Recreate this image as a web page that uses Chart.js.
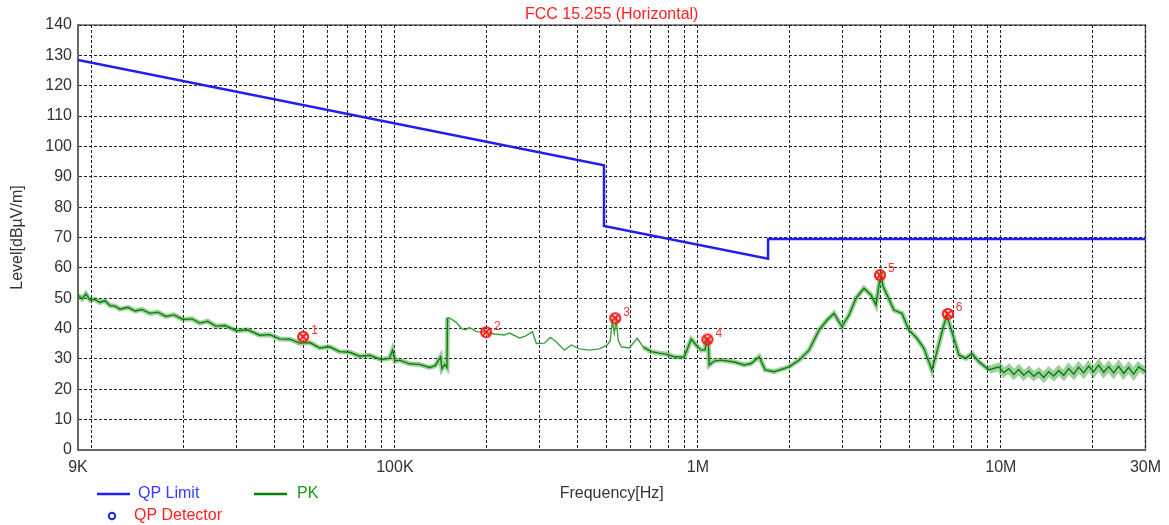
<!DOCTYPE html>
<html>
<head>
<meta charset="utf-8">
<script src="https://cdn.jsdelivr.net/npm/chart.js@4.4.1/dist/chart.umd.min.js"></script>
<style>
  html, body { margin: 0; padding: 0; background: #fff; }
  #wrap { width: 1169px; height: 525px; position: relative; }
</style>
</head>
<body>
<div id="wrap"><canvas id="chart"></canvas></div>
<script>
// frequencies in kHz, levels in dBµV/m
const limitFreq = [9, 490, 490, 1705, 1705, 30000]
const limitLevel = [128.5, 93.8, 73.8, 63.0, 69.5, 69.5]

const pkFreq = [
  9.0, 9.28, 9.56, 9.86, 10.24, 10.62, 11.04, 11.48, 11.92, 12.38,
  13.16, 13.87, 14.63, 15.54, 16.5, 17.55, 18.65, 20.0, 21.4, 22.7,
  24.1, 25.65, 27.5, 30.0, 32.7, 35.8, 38.6, 41.7, 45.0, 48.5,
  52.4, 56.5, 60.9, 65.7, 70.9, 76.5, 82.5, 90.0, 96.0, 98.3,
  100, 103.6, 111.8, 120.6, 130.1, 136, 141.5, 143, 146, 148.6,
  149.2, 151.5, 158.6, 166, 171, 176.3, 186, 200, 213, 230,
  238.9, 257.7, 269.7, 284.4, 293, 311.4, 326, 341.3, 362.6, 382.3,
  406.2, 438.3, 473, 502.6, 514, 521.8, 530, 538, 546, 558.8,
  593.8, 631, 660.4, 701.7, 745.6, 786, 835.5, 901.4, 950.6, 987,
  1025, 1057, 1068, 1082, 1090, 1132, 1194, 1318, 1421, 1498,
  1593, 1667, 1785, 2000, 2158, 2328, 2511, 2669, 2814, 2990,
  3154, 3326, 3533, 3726, 3870, 3960, 4020, 4082, 4208, 4437,
  4715, 4972, 5283, 5571, 5921, 6150, 6484, 6634, 6890, 7267,
  7662, 8020, 8457, 9125, 9846, 10227, 10620, 11032, 11457, 11898,
  12357, 12838, 13333, 13851, 14382, 14940, 15516, 16119, 16740, 17388,
  18063, 18756, 19485, 20241, 21024, 21843, 22680, 23562, 24471, 25416,
  26406, 27423, 28485, 30000
]
const pkLevel = [
  51.0, 49.8, 51.4, 49.4, 49.6, 48.6, 49.2, 47.6, 47.4, 46.4,
  47.0, 45.8, 46.3, 45.0, 45.4, 44.0, 44.5, 43.0, 43.2, 41.8,
  42.4, 40.8, 41.0, 39.3, 39.6, 37.8, 38.0, 36.6, 36.5, 35.2,
  35.4, 33.6, 34.0, 32.4, 32.2, 30.9, 31.2, 29.8, 30.2, 32.9,
  29.3, 29.6, 28.4, 28.2, 27.2, 27.8, 30.7, 26.8, 28.2, 27.2,
  43.6, 43.5, 42.2, 40.0, 39.6, 40.3, 39.0, 38.8, 38.2, 37.9,
  38.5, 36.9, 37.5, 39.0, 35.1, 35.2, 37.1, 35.6, 32.9, 34.6,
  33.3, 32.9, 33.3, 34.6, 36.0, 42.8, 38.5, 43.0, 36.0, 34.0,
  33.6, 36.8, 33.9, 32.4, 31.9, 31.6, 30.7, 30.6, 36.5, 34.6,
  32.9, 33.0, 36.4, 36.0, 28.0, 29.3, 29.6, 29.0, 28.0, 28.5,
  30.7, 26.4, 25.8, 27.4, 29.6, 32.9, 39.5, 42.8, 45.0, 40.6,
  44.5, 50.0, 53.3, 51.1, 47.8, 54.3, 57.2, 54.0, 51.1, 46.1,
  45.0, 39.5, 36.8, 33.5, 26.4, 32.4, 41.2, 44.2, 39.0, 31.3,
  30.2, 31.8, 29.1, 26.4, 27.4, 25.5, 26.8, 24.9, 26.5, 24.6,
  26.0, 24.3, 25.6, 23.9, 25.8, 24.4, 26.2, 24.6, 26.8, 25.0,
  27.3, 25.4, 27.6, 25.8, 28.0, 25.6, 27.5, 25.4, 27.6, 25.2,
  27.2, 25.0, 27.4, 25.8
]

const markerFreq = [49.8, 200, 534, 1075, 3990, 6685]
const markerLevel = [37.3, 38.8, 43.4, 36.4, 57.6, 44.8]
const markerNames = ["1", "2", "3", "4", "5", "6"]

const gridFreq = [
  9, 10, 20, 30, 40, 50, 60, 70, 80, 90,
  100, 200, 300, 400, 500, 600, 700, 800, 900,
  1000, 2000, 3000, 4000, 5000, 6000, 7000, 8000, 9000,
  10000, 20000, 30000
]
const freqLabels = { 9: "9K", 100: "100K", 1000: "1M", 10000: "10M", 30000: "30M" }

const FONT = "'Liberation Sans', Arial, sans-serif"
const toPoints = (xs, ys) => xs.map((x, i) => ({ x: x, y: ys[i] }))

// the 150K..640K stretch is a clean thin trace, everything else is noisy
const isQuiet = (f) => f > 149 && f < 640

// red crossed circle used for the numbered peaks
function markerGlyph() {
  const c = document.createElement("canvas")
  c.width = 16
  c.height = 16
  const g = c.getContext("2d")
  g.strokeStyle = "#ff1a1a"
  g.lineWidth = 2.2
  g.beginPath()
  g.arc(8, 8, 5, 0, Math.PI * 2)
  g.stroke()
  g.lineWidth = 2
  g.beginPath()
  g.moveTo(4, 4); g.lineTo(12, 12)
  g.moveTo(12, 4); g.lineTo(4, 12)
  g.stroke()
  return c
}

const framePlugin = {
  id: "frame",
  beforeDraw(chart) {
    const { ctx, chartArea: a } = chart
    ctx.save()
    ctx.strokeStyle = "#666"
    ctx.lineWidth = 1.5
    ctx.strokeRect(a.left, a.top, a.right - a.left, a.bottom - a.top)
    ctx.restore()
  },
  afterDraw(chart) {
    const { ctx, chartArea: a } = chart
    ctx.save()
    ctx.textBaseline = "middle"

    ctx.font = "16px " + FONT
    ctx.fillStyle = "#ff2020"
    ctx.textAlign = "center"
    ctx.fillText("FCC 15.255 (Horizontal)", (a.left + a.right) / 2, 15)

    ctx.fillStyle = "#333"
    ctx.fillText("Frequency[Hz]", (a.left + a.right) / 2, 494)

    ctx.save()
    ctx.translate(18, (a.top + a.bottom) / 2)
    ctx.rotate(-Math.PI / 2)
    ctx.fillText("Level[dBµV/m]", 0, 0)
    ctx.restore()

    // legend
    const ds = chart.data.datasets
    ctx.textAlign = "left"
    ctx.lineWidth = 2.5
    ctx.strokeStyle = ds[0].borderColor
    ctx.beginPath(); ctx.moveTo(97, 494); ctx.lineTo(130, 494); ctx.stroke()
    ctx.fillStyle = "#3a3aff"
    ctx.fillText(ds[0].label, 138, 494)

    ctx.strokeStyle = ds[2].borderColor
    ctx.beginPath(); ctx.moveTo(254, 494); ctx.lineTo(287, 494); ctx.stroke()
    ctx.fillStyle = "#1a9a1a"
    ctx.fillText(ds[2].label, 297, 494)

    ctx.strokeStyle = ds[4].borderColor
    ctx.lineWidth = 2
    ctx.beginPath(); ctx.arc(112, 516, 3.2, 0, Math.PI * 2); ctx.stroke()
    ctx.fillStyle = "#ff2020"
    ctx.fillText(ds[4].label, 134, 516)

    // peak numbers
    const meta = chart.getDatasetMeta(3)
    ctx.font = "12px " + FONT
    ctx.fillStyle = "#ff3030"
    meta.data.forEach((pt, i) => {
      ctx.fillText(markerNames[i], pt.x + 8, pt.y - 6)
    })
    ctx.restore()
  }
}

new Chart(document.getElementById("chart"), {
  type: "line",
  data: {
    datasets: [
      {
        label: "QP Limit",
        data: toPoints(limitFreq, limitLevel),
        borderColor: "#1f1ff0",
        borderWidth: 2.5,
        pointRadius: 0,
        order: 1
      },
      {
        label: "PK band",
        data: toPoints(pkFreq, pkLevel),
        borderColor: "rgba(40,150,40,0.45)",
        borderWidth: 5,
        pointRadius: 0,
        segment: {
          borderColor: (ctx) => isQuiet(ctx.p0.parsed.x) ? "rgba(0,0,0,0)" : undefined,
          borderWidth: (ctx) => ctx.p0.parsed.x > 9000 ? 8 : undefined
        },
        order: 4
      },
      {
        label: "PK",
        data: toPoints(pkFreq, pkLevel),
        borderColor: "#0a7f0a",
        borderWidth: 1.4,
        pointRadius: 0,
        segment: {
          borderColor: (ctx) => isQuiet(ctx.p0.parsed.x) ? "#3f9f3f" : undefined
        },
        order: 3
      },
      {
        type: "scatter",
        label: "Peaks",
        data: toPoints(markerFreq, markerLevel),
        pointStyle: markerGlyph(),
        pointRadius: 7,
        order: 0
      },
      {
        type: "scatter",
        label: "QP Detector",
        data: [],
        borderColor: "#1f1ff0",
        order: 0
      }
    ]
  },
  options: {
    responsive: true,
    maintainAspectRatio: false,
    animation: false,
    layout: { padding: { top: 25, right: 22, left: 0, bottom: 0 } },
    plugins: {
      legend: { display: false },
      title: { display: false },
      tooltip: { enabled: false }
    },
    scales: {
      x: {
        type: "logarithmic",
        min: 9,
        max: 30000,
        afterBuildTicks: (scale) => {
          scale.ticks = gridFreq.map(v => ({ value: v }))
        },
        afterFit: (scale) => { scale.height = 75 },
        grid: { color: "#222", lineWidth: 1, drawTicks: false },
        border: { display: true, color: "#666", width: 2, dash: [3, 2] },
        ticks: {
          autoSkip: false,
          maxRotation: 0,
          padding: 8,
          color: "#333",
          font: { family: FONT, size: 16 },
          callback: (v) => freqLabels[v] || ""
        }
      },
      y: {
        min: 0,
        max: 140,
        afterFit: (scale) => { scale.width = 78 },
        grid: { color: "#222", lineWidth: 1, drawTicks: false },
        border: { display: true, color: "#666", width: 2, dash: [3, 2] },
        ticks: {
          stepSize: 10,
          padding: 6,
          color: "#333",
          font: { family: FONT, size: 16 }
        }
      }
    }
  },
  plugins: [framePlugin]
})
</script>
</body>
</html>
